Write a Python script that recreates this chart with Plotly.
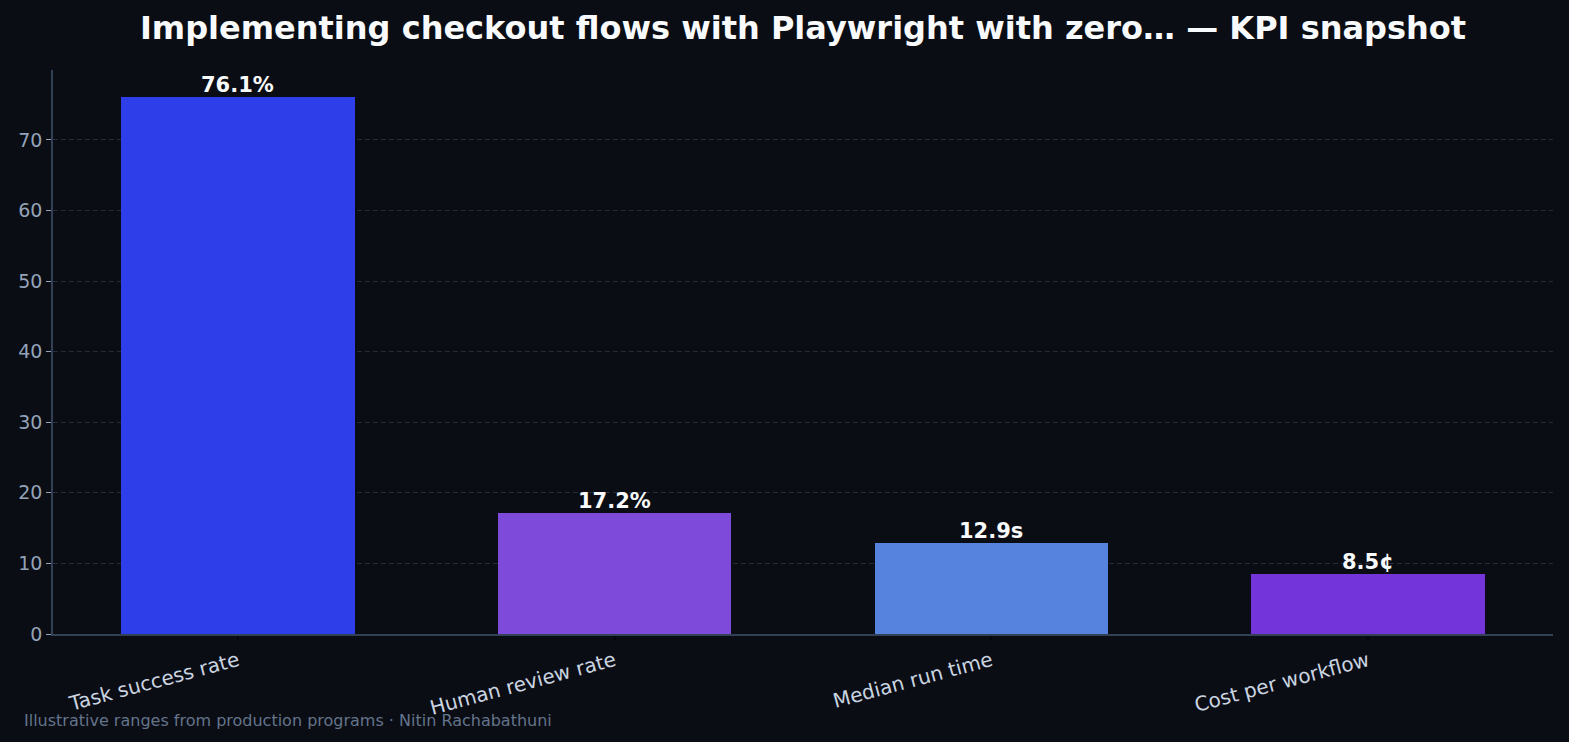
import plotly.graph_objects as go

categories = ["Task success rate", "Human review rate", "Median run time", "Cost per workflow"]
values = [76.1, 17.2, 12.9, 8.5]
value_labels = ["76.1%", "17.2%", "12.9s", "8.5¢"]
bar_colors = ["#2e3fea", "#7e4ada", "#5583de", "#7335d9"]
y_ticks = [0, 10, 20, 30, 40, 50, 60, 70]

W, H = 1569, 742
L, R, T, B = 53, 16, 70, 108
FONT = "DejaVu Sans"

fig = go.Figure()
fig.add_trace(go.Bar(
    x=list(range(len(categories))),
    y=values,
    width=0.62,
    marker=dict(color=bar_colors, line=dict(width=0)),
))

for i, (v, lab) in enumerate(zip(values, value_labels)):
    fig.add_annotation(
        x=i, y=v, xref="x", yref="y", text=f"<b>{lab}</b>",
        showarrow=False, yanchor="bottom", yshift=-2,
        font=dict(family=FONT, size=21, color="#f8fafc"),
    )

fig.update_layout(
    width=W, height=H,
    margin=dict(l=L, r=R, t=T, b=B),
    paper_bgcolor="#0a0d14",
    plot_bgcolor="#0a0d14",
    font=dict(family=FONT, color="#94a3b8"),
    showlegend=False,
    bargap=0,
    title=dict(
        text="<b>Implementing checkout flows with Playwright with zero… — KPI snapshot</b>",
        x=(L + (W - R)) / 2 / W, xanchor="center",
        y=1 - 28 / H, yanchor="middle",
        font=dict(family=FONT, size=32, color="#f8fafc"),
    ),
    xaxis=dict(
        range=[-0.491, 3.491],
        tickmode="array",
        tickvals=list(range(len(categories))),
        ticktext=categories,
        tickangle=-15,
        tickfont=dict(family=FONT, size=20, color="#cbd5e1"),
        ticklabelstandoff=1,
        showgrid=False,
        zeroline=False,
        showline=True, linecolor="#334155", linewidth=1.5,
        ticks="outside", ticklen=5, tickcolor="#05070b", tickwidth=1.5,
        layer="above traces",
    ),
    yaxis=dict(
        range=[0, 79.9],
        tickmode="array",
        tickvals=y_ticks,
        tickfont=dict(family=FONT, size=19, color="#94a3b8"),
        showgrid=True, gridcolor="rgba(51,65,85,0.6)", griddash="5px,3px", gridwidth=1.2,
        zeroline=False,
        showline=True, linecolor="#334155", linewidth=1.5,
        ticks="outside", ticklen=5, tickcolor="#94a3b8", tickwidth=1.2,
        layer="above traces",
    ),
)

fig.add_annotation(
    text="Illustrative ranges from production programs · Nitin Rachabathuni",
    xref="paper", yref="paper",
    x=(22 - L) / (W - L - R), y=-(720 - (H - B)) / (H - T - B),
    xanchor="left", yanchor="middle", showarrow=False,
    font=dict(family=FONT, size=16, color="#64748b"),
)

fig.write_html("out.html")
